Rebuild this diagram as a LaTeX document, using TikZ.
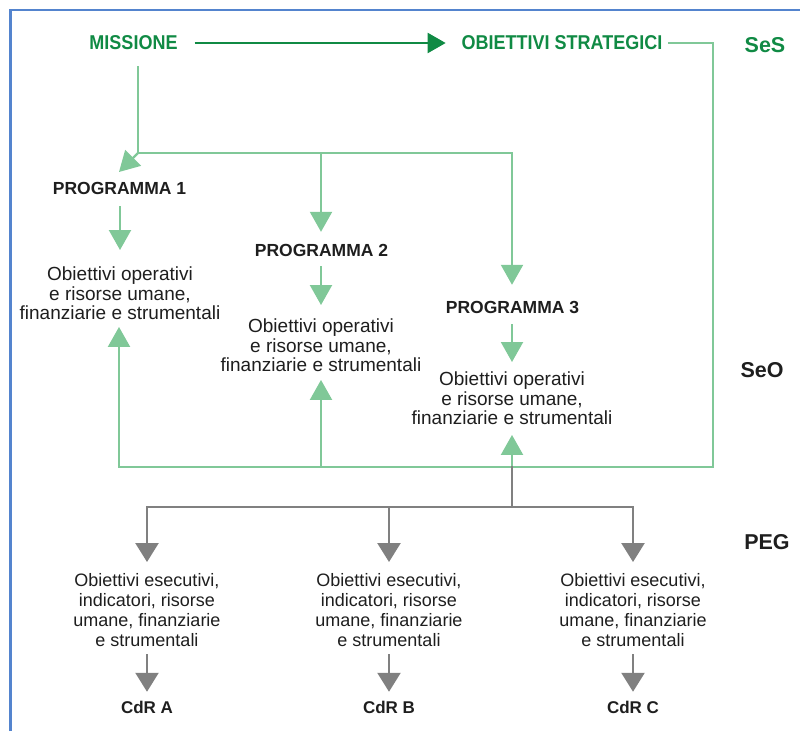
\documentclass[tikz,border=0pt]{standalone}
\usepackage{fontspec}
\setmainfont{Liberation Sans}
\newfontfamily\headfont[FakeStretch=0.9]{Liberation Sans}
\usetikzlibrary{arrows.meta}
\definecolor{missgreen}{RGB}{16,138,68}
\definecolor{flowgreen}{RGB}{128,200,152}
\definecolor{flowgray}{RGB}{128,128,128}
\definecolor{frameblue}{RGB}{84,132,206}
\definecolor{inkgray}{RGB}{30,30,30}

\begin{document}
\begin{tikzpicture}[x=1pt,y=-1pt,
  every node/.style={inner sep=0pt, outer sep=0pt},
  head/.style={text=missgreen, font=\headfont\bfseries\fontsize{20}{24}\selectfont},
  level/.style={font=\bfseries\fontsize{21.5}{24}\selectfont, text=inkgray},
  prog/.style={font=\bfseries\fontsize{17.5}{20}\selectfont, text=inkgray},
  opbox/.style={anchor=north, align=center, font=\fontsize{19}{19.5}\selectfont, text=inkgray},
  exbox/.style={anchor=north, align=center, font=\fontsize{18}{20}\selectfont, text=inkgray},
  cdr/.style={font=\bfseries\fontsize{17}{20}\selectfont, text=inkgray},
  gline/.style={draw=flowgreen, line width=2.2pt, line cap=rect},
  garrow/.style={gline, -{Triangle[width=22pt,length=20pt]}},
  grline/.style={draw=flowgray, line width=2.5pt, line cap=rect},
  grarrow/.style={grline, -{Triangle[width=23pt,length=19pt]}},
]
\useasboundingbox (0,0) rectangle (800,731);

% page frame (top and left edges)
\draw[frameblue, line width=2.5pt] (10.5,731) -- (10.5,10) -- (800,10);

% strategic level
\node[head] (mis) at (133.5,43) {MISSIONE};
\node[head] (obs) at (562,43) {OBIETTIVI STRATEGICI};
\node[level, text=missgreen] (ses) at (765,45) {SeS};

% operative level
\node[level] (seo) at (762,370) {SeO};
\node[prog] (p1) at (119.5,188.5) {PROGRAMMA 1};
\node[prog] (p2) at (321.5,250) {PROGRAMMA 2};
\node[prog] (p3) at (512.5,307) {PROGRAMMA 3};
\node[opbox] (o1) at (120,267) {Obiettivi operativi\\e risorse umane,\\finanziarie e strumentali};
\node[opbox] (o2) at (321,319) {Obiettivi operativi\\e risorse umane,\\finanziarie e strumentali};
\node[opbox] (o3) at (512,372) {Obiettivi operativi\\e risorse umane,\\finanziarie e strumentali};

% executive plan
\node[level] (peg) at (767,542) {PEG};
\node[exbox] (e1) at (147,573) {Obiettivi esecutivi,\\indicatori, risorse\\umane, finanziarie\\e strumentali};
\node[exbox] (e2) at (389,573) {Obiettivi esecutivi,\\indicatori, risorse\\umane, finanziarie\\e strumentali};
\node[exbox] (e3) at (633,573) {Obiettivi esecutivi,\\indicatori, risorse\\umane, finanziarie\\e strumentali};
\node[cdr] (c1) at (147,707) {CdR A};
\node[cdr] (c2) at (389,707) {CdR B};
\node[cdr] (c3) at (633,707) {CdR C};

% routing points
\coordinate (mdown) at (138,153);
\coordinate (p1tip) at (119,172);
\coordinate (b2) at (321,153);
\coordinate (b3) at (512,153);
\coordinate (ne) at (713,43);
\coordinate (se) at (713,467);
\coordinate (j1) at (119,467);
\coordinate (j2) at (321,467);
\coordinate (j3) at (512,467);
\coordinate (g0) at (512,507);
\coordinate (ga) at (147,507);
\coordinate (gb) at (389,507);
\coordinate (gc) at (633,507);

% mission to strategic objectives
\draw[missgreen, line width=2.2pt, -{Triangle[width=20pt,length=18pt]},
      shorten <=17pt, shorten >=16pt] (mis) -- (obs);

% mission down to the programmes
\draw[gline, shorten <=17pt] (mis.south -| mdown) -- (mdown) -- (b3);
\draw[garrow] (mdown) -- (p1tip);
\draw[garrow, shorten >=12pt] (b2) -- (b2 |- p2.north);
\draw[garrow, shorten >=16pt] (b3) -- (b3 |- p3.north);

% programmes to their operative objectives
\draw[garrow, shorten <=12pt, shorten >=17pt] (p1.south -| o1) -- (o1.north);
\draw[garrow, shorten <=11pt, shorten >=14pt] (p2.south -| o2) -- (o2.north);
\draw[garrow, shorten <=12pt, shorten >=10pt] (p3.south -| o3) -- (o3.north);

% strategic objectives feeding back into the operative section
\draw[gline] ([xshift=7pt]obs.east) -- (ne) -- (se) -- (j1);
\draw[garrow, shorten >=7pt] (j1) -- (j1 |- o1.south);
\draw[garrow, shorten >=8pt] (j2) -- (j2 |- o2.south);
\draw[garrow, shorten >=10pt] (j3) -- (j3 |- o3.south);

% executive plan branches
\draw[grline] (g0) -- (j3);
\draw[grline] (ga) -- (gc);
\draw[grarrow, shorten >=11pt] (ga) -- (ga |- e1.north);
\draw[grarrow, shorten >=11pt] (gb) -- (gb |- e2.north);
\draw[grarrow, shorten >=11pt] (gc) -- (gc |- e3.north);
\draw[grarrow, shorten <=9pt, shorten >=9pt] (e1.south) -- (c1.north);
\draw[grarrow, shorten <=9pt, shorten >=9pt] (e2.south) -- (c2.north);
\draw[grarrow, shorten <=9pt, shorten >=9pt] (e3.south) -- (c3.north);
\end{tikzpicture}
\end{document}
